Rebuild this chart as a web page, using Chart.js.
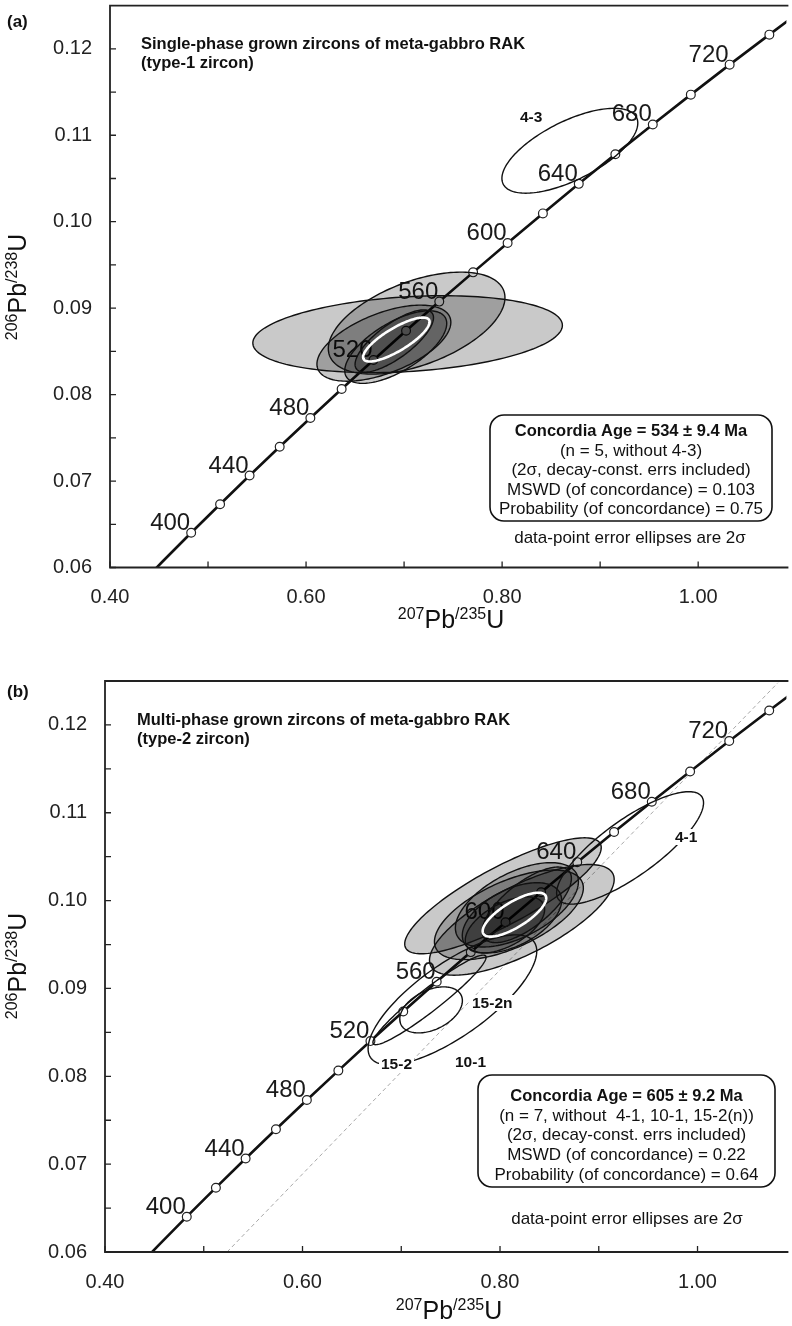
<!DOCTYPE html>
<html><head><meta charset="utf-8">
<script src="https://cdn.jsdelivr.net/npm/chart.js@4.4.1/dist/chart.umd.min.js"></script>
<style>
html,body{margin:0;padding:0;background:#fff;}
#wrap{position:relative;width:792px;height:1326px;overflow:hidden;}
.panel{position:absolute;left:0;width:792px;}
canvas{display:block;}
</style></head><body>
<div id="wrap">
<div class="panel" style="top:0;height:640px"><canvas id="ca" width="792" height="640"></canvas></div>
<div class="panel" style="top:640px;height:686px"><canvas id="cb" width="792" height="686"></canvas></div>
</div>
<script>
const FONT = "'Liberation Sans', Arial, Helvetica, sans-serif";

// ---- Concordia curve (age in Ma, 207Pb/235U, 206Pb/238U) ----
const concordiaAges = [360,380,400,420,440,460,480,500,520,540,560,580,600,620,640,660,680,700,720,740,760];
const concordiaX = [0.4255,0.4539,0.4828,0.5123,0.5424,0.5731,0.6044,0.6363,0.6688,0.7020,0.7359,0.7704,0.8056,0.8416,0.8782,0.9155,0.9537,0.9925,1.0321,1.0726,1.1138];
const concordiaY = [0.05743,0.06072,0.06402,0.06732,0.07064,0.07397,0.07730,0.08065,0.08401,0.08738,0.09076,0.09414,0.09754,0.10096,0.10438,0.10781,0.11125,0.11470,0.11817,0.12164,0.12513];
const concordiaFirstMarkedAge = 400;
const concordiaLabelAges = [400,440,480,520,560,600,640,680,720];

// ---- Axis ticks ----
const xTickValues = [0.40,0.50,0.60,0.70,0.80,0.90,1.00];
const xTickLabels = ['0.40','','0.60','','0.80','','1.00'];
const yTickValues = [0.060,0.065,0.070,0.075,0.080,0.085,0.090,0.095,0.100,0.105,0.110,0.115,0.120];
const yTickLabels = ['0.06','','0.07','','0.08','','0.09','','0.10','','0.11','','0.12'];

// ---- Panel (a): filled 2σ data-point ellipses (centre, half-widths, correlation) ----
const aEllX   = [0.7036,0.7128,0.6794,0.6915,0.6900];
const aEllY   = [0.08699,0.08827,0.08595,0.08550,0.08620];
const aEllSX  = [0.1579,0.0901,0.0683,0.0520,0.0400];
const aEllSY  = [0.00445,0.00590,0.00440,0.00420,0.00360];
const aEllRho = [0.23,0.50,0.55,0.65,0.75];
// open (rejected) ellipse
const aOpenX = [0.8691], aOpenY = [0.10821], aOpenSX = [0.0693], aOpenSY = [0.00491], aOpenRho = [0.65];
const aOpenNames = ['4-3'];
// concordia age ellipse (534 Ma)
const aAgeX = 0.6921, aAgeY = 0.08637, aAgeSX = 0.0339, aAgeSY = 0.00254, aAgeRho = 0.80;

// ---- Panel (b) ----
const bEllX   = [0.8030,0.8221,0.8090,0.8171,0.8121,0.8271,0.8050];
const bEllY   = [0.10055,0.09781,0.09838,0.09952,0.09804,0.09952,0.09724];
const bEllSX  = [0.0995,0.0935,0.0754,0.0623,0.0503,0.0452,0.0402];
const bEllSY  = [0.00660,0.00630,0.00510,0.00480,0.00400,0.00430,0.00320];
const bEllRho = [0.83,0.73,0.60,0.55,0.50,0.70,0.55];
const bOpenX   = [0.9317,0.7302,0.7518,0.7286];
const bOpenY   = [0.10600,0.08756,0.08870,0.08870];
const bOpenSX  = [0.0744,0.0317,0.0854,0.0573];
const bOpenSY  = [0.00640,0.00262,0.00740,0.00510];
const bOpenRho = [0.80,0.40,0.75,0.95];
const bOpenNames = ['4-1','15-2n','10-1','15-2'];
const bAgeX = 0.8146, bAgeY = 0.09840, bAgeSX = 0.0322, bAgeSY = 0.00250, bAgeRho = 0.75;
// dashed reference line (panel b)
const bRefX = [0.5236,1.0814];
const bRefY = [0.0600,0.1248];

// ---- texts ----
const aTitle = ['Single-phase grown zircons of meta-gabbro RAK','(type-1 zircon)'];
const bTitle = ['Multi-phase grown zircons of meta-gabbro RAK','(type-2 zircon)'];
const aBox = ['Concordia Age = 534 \u00b1 9.4 Ma','(n = 5, without 4-3)','(2\u03c3, decay-const. errs included)','MSWD (of concordance) = 0.103','Probability (of concordance) = 0.75'];
const bBox = ['Concordia Age = 605 \u00b1 9.2 Ma','(n = 7, without  4-1, 10-1, 15-2(n))','(2\u03c3, decay-const. errs included)','MSWD (of concordance) = 0.22','Probability (of concordance) = 0.64'];
const noteText = 'data-point error ellipses are 2\u03c3';
const xTitleParts = [['207',1],['Pb',0],['/235',1],['U',0]];
const yTitleParts = [['206',1],['Pb',0],['/238',1],['U',0]];

function ellipsePath(ctx, xs, ys, cx, cy, sx, sy, rho){
  const n = 160, k = Math.sqrt(1 - rho*rho);
  ctx.beginPath();
  for (let i = 0; i <= n; i++){
    const t = i / n * 2 * Math.PI;
    const px = xs.getPixelForValue(cx + sx*Math.cos(t));
    const py = ys.getPixelForValue(cy + sy*(rho*Math.cos(t) + k*Math.sin(t)));
    if (i === 0) ctx.moveTo(px, py); else ctx.lineTo(px, py);
  }
  ctx.closePath();
}

function drawIso(ctx, parts, x, y, big, small){
  let w = 0;
  parts.forEach(p => { ctx.font = (p[1] ? small : big) + 'px ' + FONT; w += ctx.measureText(p[0]).width; });
  let cx = x - w/2;
  ctx.textAlign = 'left'; ctx.textBaseline = 'alphabetic';
  parts.forEach(p => {
    ctx.font = (p[1] ? small : big) + 'px ' + FONT;
    ctx.fillText(p[0], cx, p[1] ? y - big*0.36 : y);
    cx += ctx.measureText(p[0]).width;
  });
}

function roundRect(ctx, x, y, w, h, r){
  ctx.beginPath();
  ctx.moveTo(x+r, y); ctx.lineTo(x+w-r, y); ctx.arcTo(x+w, y, x+w, y+r, r);
  ctx.lineTo(x+w, y+h-r); ctx.arcTo(x+w, y+h, x+w-r, y+h, r);
  ctx.lineTo(x+r, y+h); ctx.arcTo(x, y+h, x, y+h-r, r);
  ctx.lineTo(x, y+r); ctx.arcTo(x, y, x+r, y, r); ctx.closePath();
}

function decorPlugin(cfg){
  return {
    id: 'decor_' + cfg.name,
    afterDatasetsDraw(chart){
      const ctx = chart.ctx, xs = chart.scales.x, ys = chart.scales.y, ca = chart.chartArea;
      ctx.save();
      ctx.beginPath(); ctx.rect(ca.left, ca.top, ca.right - ca.left, ca.bottom - ca.top); ctx.clip();
      // concordia age labels
      ctx.font = '24px ' + FONT; ctx.fillStyle = '#1a1a1a'; ctx.textAlign = 'right'; ctx.textBaseline = 'alphabetic';
      concordiaLabelAges.forEach(a => {
        const i = concordiaAges.indexOf(a);
        ctx.fillText(String(a), xs.getPixelForValue(concordiaX[i]) - 1, ys.getPixelForValue(concordiaY[i]) - 3);
      });
      // filled ellipses
      const E = cfg.ell;
      for (let i = 0; i < E.x.length; i++){
        ellipsePath(ctx, xs, ys, E.x[i], E.y[i], E.sx[i], E.sy[i], E.rho[i]);
        ctx.fillStyle = 'rgba(0,0,0,0.21)'; ctx.fill();
      }
      ctx.strokeStyle = '#111'; ctx.lineWidth = 1.4;
      for (let i = 0; i < E.x.length; i++){
        ellipsePath(ctx, xs, ys, E.x[i], E.y[i], E.sx[i], E.sy[i], E.rho[i]);
        ctx.stroke();
      }
      // open ellipses
      const O = cfg.open;
      for (let i = 0; i < O.x.length; i++){
        ellipsePath(ctx, xs, ys, O.x[i], O.y[i], O.sx[i], O.sy[i], O.rho[i]);
        ctx.strokeStyle = '#111'; ctx.lineWidth = 1.4; ctx.stroke();
      }
      // concordia age ellipse
      const A = cfg.age;
      ellipsePath(ctx, xs, ys, A.x, A.y, A.sx, A.sy, A.rho);
      ctx.strokeStyle = '#fff'; ctx.lineWidth = 2.6; ctx.stroke();
      ctx.restore();
    },
    afterDraw(chart){
      const ctx = chart.ctx, xs = chart.scales.x, ys = chart.scales.y, ca = chart.chartArea;
      ctx.save();
      // frame (left, top, bottom)
      ctx.strokeStyle = '#222'; ctx.lineWidth = 1.8;
      ctx.beginPath();
      ctx.moveTo(ca.right + 2, ca.top); ctx.lineTo(ca.left, ca.top); ctx.lineTo(ca.left, ca.bottom); ctx.lineTo(ca.right + 2, ca.bottom);
      ctx.stroke();
      // inside ticks
      ctx.lineWidth = 1.3;
      ctx.beginPath();
      xs.ticks.forEach(t => { const p = xs.getPixelForValue(t.value); ctx.moveTo(p, ca.bottom); ctx.lineTo(p, ca.bottom - 6); });
      ys.ticks.forEach(t => { const p = ys.getPixelForValue(t.value); ctx.moveTo(ca.left, p); ctx.lineTo(ca.left + 6, p); });
      ctx.stroke();
      // open-ellipse labels (on white background)
      ctx.font = 'bold 15.5px ' + FONT; ctx.textAlign = 'left'; ctx.textBaseline = 'alphabetic';
      cfg.openLabelPos.forEach((p, i) => {
        const w = ctx.measureText(cfg.open.names[i]).width;
        ctx.fillStyle = '#fff'; ctx.fillRect(p[0] - 2, p[1] - 13, w + 4, 16);
        ctx.fillStyle = '#111'; ctx.fillText(cfg.open.names[i], p[0], p[1]);
      });
      // panel letter and title
      ctx.fillStyle = '#111';
      ctx.font = 'bold 17px ' + FONT;
      ctx.fillText(cfg.letter, cfg.letterPos[0], cfg.letterPos[1]);
      ctx.font = 'bold 16.5px ' + FONT;
      cfg.title.forEach((t, i) => ctx.fillText(t, cfg.titlePos[0], cfg.titlePos[1] + i*18.5));
      // result box
      const B = cfg.box;
      roundRect(ctx, B.x, B.y, B.w, B.h, 14);
      ctx.fillStyle = '#fff'; ctx.fill();
      ctx.strokeStyle = '#111'; ctx.lineWidth = 1.6; ctx.stroke();
      ctx.fillStyle = '#111'; ctx.textAlign = 'center';
      const cx = B.x + B.w/2;
      cfg.boxLines.forEach((t, i) => {
        ctx.font = (i === 0 ? 'bold 16.5px ' : '17px ') + FONT;
        ctx.fillText(t, cx, B.firstBase + i*B.step);
      });
      ctx.font = '17px ' + FONT;
      ctx.fillText(noteText, cfg.notePos[0], cfg.notePos[1]);
      // axis titles
      drawIso(ctx, xTitleParts, cfg.xTitlePos[0], cfg.xTitlePos[1], 25, 16);
      ctx.translate(cfg.yTitlePos[0], cfg.yTitlePos[1]); ctx.rotate(-Math.PI/2);
      drawIso(ctx, yTitleParts, 0, 0, 25, 16);
      ctx.restore();
    }
  };
}

function makeChart(id, cfg){
  const datasets = [{
    label: 'Concordia',
    data: concordiaAges.map((a, i) => ({x: concordiaX[i], y: concordiaY[i]})),
    borderColor: '#111', borderWidth: 2.6, tension: 0,
    pointRadius: c => concordiaAges[c.dataIndex] >= concordiaFirstMarkedAge ? 4.4 : 0,
    pointBackgroundColor: '#fff', pointBorderColor: '#222', pointBorderWidth: 1.2,
    order: 0
  }];
  if (cfg.ref) datasets.push({
    label: 'ref', data: cfg.ref.x.map((v, i) => ({x: v, y: cfg.ref.y[i]})),
    borderColor: '#a8a8a8', borderWidth: 1, borderDash: [4, 3], pointRadius: 0, order: 1
  });
  return new Chart(document.getElementById(id).getContext('2d'), {
    type: 'line',
    data: {datasets},
    options: {
      responsive: false, animation: false, devicePixelRatio: 1,
      layout: {padding: {top: cfg.padTop, left: 0, right: 0, bottom: 0}},
      plugins: {legend: {display: false}, tooltip: {enabled: false}},
      scales: {
        x: {
          type: 'linear', min: 0.40, max: 1.09,
          afterFit: s => { s.height = cfg.xH; s.paddingLeft = 0; s.paddingRight = 0; },
          afterBuildTicks: s => { s.ticks = xTickValues.map(v => ({value: v})); },
          grid: {display: false, drawTicks: false}, border: {display: false},
          ticks: {autoSkip: false, maxRotation: 0, padding: 18, color: '#222', font: {family: FONT, size: 20},
                  callback: (v, i) => xTickLabels[i]}
        },
        y: {
          type: 'linear', min: 0.06, max: 0.125,
          afterFit: s => { s.width = cfg.yW; s.paddingTop = 0; s.paddingBottom = 0; },
          afterBuildTicks: s => { s.ticks = yTickValues.map(v => ({value: v})); },
          grid: {display: false, drawTicks: false}, border: {display: false},
          ticks: {autoSkip: false, padding: 18, color: '#222', font: {family: FONT, size: 20},
                  callback: (v, i) => yTickLabels[i]}
        }
      }
    },
    plugins: [decorPlugin(cfg)]
  });
}

makeChart('ca', {
  name: 'a', padTop: 5, xH: 72.5, yW: 110,
  ell: {x: aEllX, y: aEllY, sx: aEllSX, sy: aEllSY, rho: aEllRho},
  open: {x: aOpenX, y: aOpenY, sx: aOpenSX, sy: aOpenSY, rho: aOpenRho, names: aOpenNames},
  openLabelPos: [[520, 122]],
  age: {x: aAgeX, y: aAgeY, sx: aAgeSX, sy: aAgeSY, rho: aAgeRho},
  letter: '(a)', letterPos: [7, 27],
  title: aTitle, titlePos: [141, 49],
  box: {x: 490, y: 415, w: 282, h: 106, firstBase: 436, step: 19.5},
  boxLines: aBox, notePos: [630, 543],
  xTitlePos: [451, 628], yTitlePos: [26, 287]
});

makeChart('cb', {
  name: 'b', padTop: 41, xH: 74, yW: 105,
  ell: {x: bEllX, y: bEllY, sx: bEllSX, sy: bEllSY, rho: bEllRho},
  open: {x: bOpenX, y: bOpenY, sx: bOpenSX, sy: bOpenSY, rho: bOpenRho, names: bOpenNames},
  openLabelPos: [[675, 202], [472, 368], [455, 427], [381, 429]],
  age: {x: bAgeX, y: bAgeY, sx: bAgeSX, sy: bAgeSY, rho: bAgeRho},
  ref: {x: bRefX, y: bRefY},
  letter: '(b)', letterPos: [7, 57],
  title: bTitle, titlePos: [137, 85],
  box: {x: 478, y: 435, w: 297, h: 112, firstBase: 461, step: 19.7},
  boxLines: bBox, notePos: [627, 584],
  xTitlePos: [449, 679], yTitlePos: [26, 326]
});
</script>
</body></html>
